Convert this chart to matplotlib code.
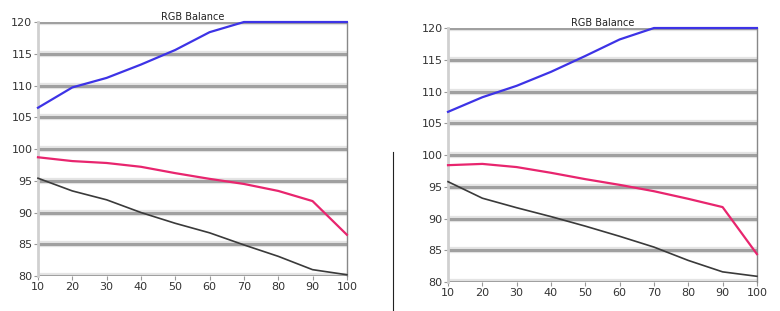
"""Two RGB balance panels side by side."""

import matplotlib

matplotlib.use("Agg")

import matplotlib.patheffects as pe
import matplotlib.pyplot as plt
from matplotlib.lines import Line2D

LEVELS = [10, 20, 30, 40, 50, 60, 70, 80, 90, 100]
Y_TICKS = [80, 85, 90, 95, 100, 105, 110, 115, 120]

# left panel
LEFT_BLUE = [106.5, 109.7, 111.2, 113.3, 115.6, 118.4, 120.0, 120.0, 120.0, 120.0]
LEFT_RED = [98.7, 98.1, 97.8, 97.2, 96.2, 95.3, 94.5, 93.4, 91.8, 86.5]
LEFT_BLACK = [95.4, 93.4, 92.0, 90.0, 88.3, 86.8, 84.9, 83.1, 81.0, 80.2]

# right panel
RIGHT_BLUE = [106.8, 109.1, 110.9, 113.1, 115.6, 118.2, 120.0, 120.0, 120.0, 120.0]
RIGHT_RED = [98.4, 98.6, 98.1, 97.2, 96.2, 95.3, 94.3, 93.1, 91.8, 84.4]
RIGHT_BLACK = [95.8, 93.2, 91.7, 90.3, 88.8, 87.2, 85.5, 83.4, 81.6, 80.9]

TITLE = "RGB Balance"


def draw_panel(ax, blue, red, black):
    ax.set_xlim(LEVELS[0], LEVELS[-1])
    ax.set_ylim(80, 120)
    ax.set_xticks(LEVELS)
    ax.set_yticks(Y_TICKS)
    ax.tick_params(labelsize=8, length=3, color="#999999", pad=1, labelcolor="#333333")
    for side in ["top", "bottom"]:
        ax.spines[side].set_visible(False)
    ax.spines["left"].set_color("#d0d0d0")
    ax.spines["left"].set_linewidth(2)
    ax.spines["right"].set_color("#888888")
    ax.spines["right"].set_linewidth(1)
    ax.yaxis.grid(True, color="#a0a0a0", lw=2.2, zorder=0)
    ax.set_axisbelow(True)
    for gl in ax.get_ygridlines():
        # light halo around each grid bar
        gl.set_path_effects([pe.Stroke(linewidth=4.5, foreground="#e4e4e4"), pe.Normal()])
    ax.plot(LEVELS, black, color="#3a3a3a", lw=1.2, zorder=3, clip_on=False)
    ax.plot(LEVELS, red, color="#e8256e", lw=1.6, zorder=3, clip_on=False)
    ax.plot(LEVELS, blue, color="#3d33e6", lw=1.6, zorder=3, clip_on=False)
    ax.set_title(TITLE, fontsize=7, pad=1, color="#222222")


fig = plt.figure(figsize=(7.8, 3.11), dpi=100)
ax_l = fig.add_axes([0.0487, 0.1125, 0.396, 0.8167])
ax_r = fig.add_axes([0.5744, 0.0932, 0.396, 0.8167])
draw_panel(ax_l, LEFT_BLUE, LEFT_RED, LEFT_BLACK)
draw_panel(ax_r, RIGHT_BLUE, RIGHT_RED, RIGHT_BLACK)

# thin divider stroke between the two screenshots
fig.add_artist(Line2D([0.504, 0.504], [0.0, 0.51], color="#222222", lw=0.8))

fig.savefig("out.png", dpi=100)
